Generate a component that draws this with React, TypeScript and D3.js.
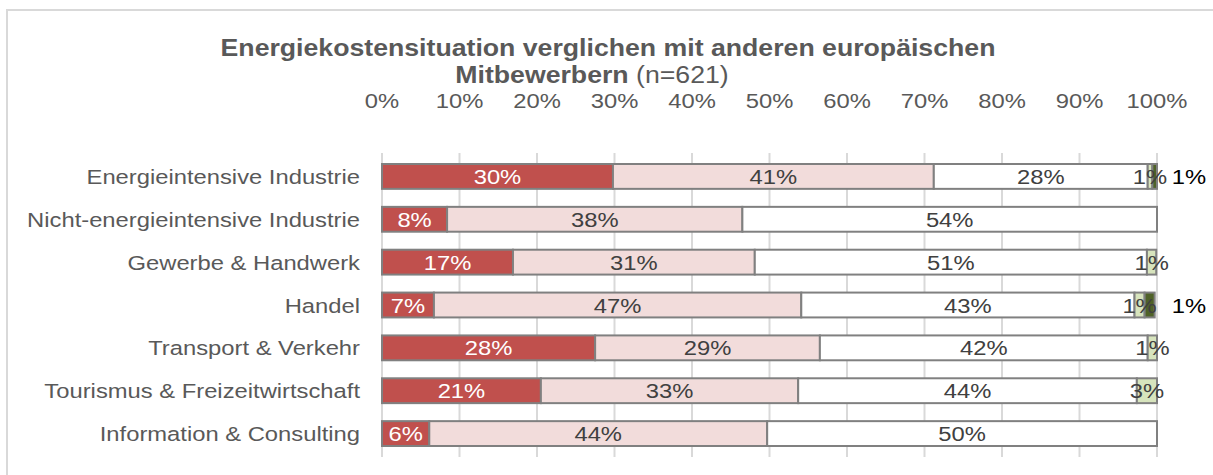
import React from "react";
import * as d3 from "d3";

// categories (top to bottom)
const categories = [
  "Energieintensive Industrie",
  "Nicht-energieintensive Industrie",
  "Gewerbe & Handwerk",
  "Handel",
  "Transport & Verkehr",
  "Tourismus & Freizeitwirtschaft",
  "Information & Consulting",
];

// answer options, left to right
const seriesNames = ["deutlich höher", "etwas höher", "gleich", "etwas niedriger", "deutlich niedriger"];

// shares in %
const deutlichHoeher = [29.8, 8.4, 16.9, 6.7, 27.5, 20.5, 6.1];
const etwasHoeher = [41.4, 38.1, 31.2, 47.4, 29.0, 33.2, 43.6];
const gleich = [27.6, 53.5, 50.6, 43.0, 42.3, 43.7, 50.3];
const etwasNiedriger = [0.6, 0, 1.2, 1.3, 1.2, 2.6, 0];
const deutlichNiedriger = [0.6, 0, 0, 1.3, 0, 0, 0];

const ticks = [0, 10, 20, 30, 40, 50, 60, 70, 80, 90, 100];

const colors = ["#c0504d", "#f2dcdb", "#ffffff", "#d7e4bd", "#4f6228"];
const textColors = ["#ffffff", "#404040", "#404040", "#404040", "#000000"];

const W = 1213;
const H = 475;
const font = "'Liberation Sans', Arial, sans-serif";
const fs = 20.5;
const sx = 1.16; // the source image is a bit wider than tall

// text placed at (x, y) and stretched horizontally
const T = ({ x, y, children, ...rest }: any) => (
  <text transform={`translate(${x},${y}) scale(${sx},1)`} {...rest}>
    {children}
  </text>
);

export default function App() {
  const x = d3.scaleLinear().domain([0, 100]).range([382, 1157]);
  const y = d3.scaleBand().domain(categories).range([155, 455]).paddingInner(0.42).paddingOuter(0.21);

  const rows = categories.map((c, i) => ({
    cat: c,
    values: [deutlichHoeher[i], etwasHoeher[i], gleich[i], etwasNiedriger[i], deutlichNiedriger[i]],
  }));
  const stacked = d3.stack<any>().keys(seriesNames.map((_, k) => String(k)))(
    rows.map((r) => {
      const o: any = { cat: r.cat };
      r.values.forEach((v, k) => (o[String(k)] = v));
      return o;
    })
  );

  const bh = y.bandwidth();

  return (
    <svg width={W} height={H} style={{ position: "absolute", left: 0, top: 0, fontFamily: font }}>
      <rect x={0} y={0} width={W} height={H} fill="#ffffff" />
      <rect x={7} y={10} width={W + 20} height={H + 20} fill="none" stroke="#d9d9d9" strokeWidth={2} />

      <T x={608} y={56} textAnchor="middle" fontSize={23} fontWeight="bold" fill="#595959">
        Energiekostensituation verglichen mit anderen europäischen
      </T>
      <T x={592} y={83} textAnchor="middle" fontSize={23} fill="#595959">
        <tspan fontWeight="bold">Mitbewerbern</tspan> (n=621)
      </T>

      {ticks.map((t) => (
        <g key={t}>
          <line x1={x(t)} x2={x(t)} y1={153} y2={457} stroke="#d9d9d9" strokeWidth={2} />
          <T x={x(t)} y={108} textAnchor="middle" fontSize={fs} fill="#595959">
            {t}%
          </T>
        </g>
      ))}

      {categories.map((c) => (
        <T key={c} x={360} y={(y(c) as number) + bh / 2 + 7.5} textAnchor="end" fontSize={fs} fill="#595959">
          {c}
        </T>
      ))}

      {stacked.map((s, k) =>
        s.map((d, i) => {
          const v = d[1] - d[0];
          if (v <= 0) return null;
          const yy = y(categories[i]) as number;
          return (
            <rect
              key={k + "-" + i}
              x={x(d[0])}
              y={yy}
              width={x(d[1]) - x(d[0])}
              height={bh}
              fill={colors[k]}
              stroke="#808080"
              strokeWidth={2}
            />
          );
        })
      )}

      {stacked.map((s, k) =>
        s.map((d, i) => {
          const v = d[1] - d[0];
          if (v <= 0) return null;
          const yy = (y(categories[i]) as number) + bh / 2 + 7.5;
          const lx = k === 4 ? x(100) + 32 : (x(d[0]) + x(d[1])) / 2;
          return (
            <T key={"l" + k + "-" + i} x={lx} y={yy} textAnchor="middle" fontSize={fs} fill={textColors[k]}>
              {Math.max(1, Math.round(v))}%
            </T>
          );
        })
      )}
    </svg>
  );
}
